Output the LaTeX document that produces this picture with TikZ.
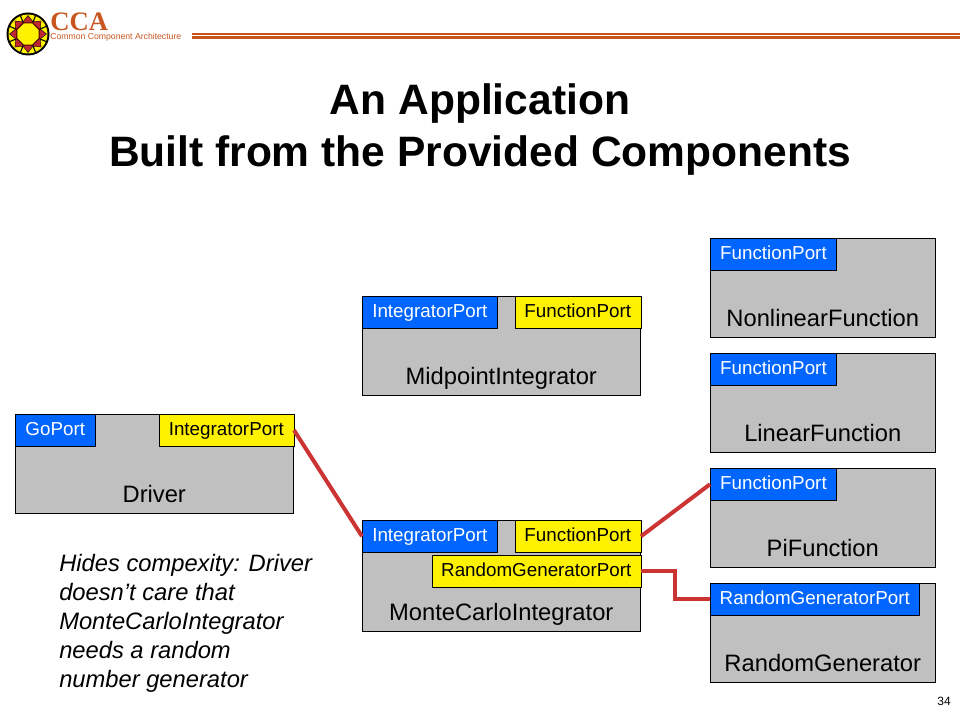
\documentclass[tikz,border=0pt]{standalone}
\usepackage{fontspec}
\setmainfont{Liberation Sans}
\newfontfamily\logofont{Liberation Serif}
\usetikzlibrary{calc}
\usepackage{xcolor}
\definecolor{compgray}{RGB}{192,192,192}
\definecolor{portblue}{RGB}{0,102,255}
\definecolor{wirered}{RGB}{204,51,51}
\definecolor{ccaorange}{RGB}{200,85,30}
\definecolor{logored}{RGB}{190,40,50}

\begin{document}
\begin{tikzpicture}[
      x=0.75pt, y=-0.75pt,
      comp/.style={draw, fill=compgray, anchor=north west, inner sep=0pt, align=center,
                   font=\fontsize{17.8}{20}\selectfont, text depth=7.75pt},
      bigcomp/.style={comp, minimum width=208.5pt, text height=66.5pt},
      funccomp/.style={comp, minimum width=168.75pt, text height=66.5pt},
      provides/.style={draw, fill=portblue, text=white, anchor=north west, inner sep=0pt,
                       minimum height=24pt, text height=10.5pt, text depth=2.5pt,
                       font=\fontsize{14.1}{16}\selectfont},
      uses/.style={draw, fill=yellow, anchor=north east, inner sep=0pt,
                   minimum height=24pt, text height=10.5pt, text depth=2.5pt,
                   font=\fontsize{14.1}{16}\selectfont},
      wire/.style={draw=wirered, line width=3pt},
    ]
    \useasboundingbox (0,0) rectangle (960,720);

    % logo and header
    \fill[black] (28,34) circle (21.5);
    \fill[yellow] (28,34) circle (19.5);
    \foreach \a in {0,45,...,315} {
      \draw[black, line width=0.8pt] (28,34) -- ++(\a+22.5:20);
      \fill[logored, draw=black, line width=0.3pt] (28,34) ++(\a:18.5) -- ($(28,34)+(\a+24:13)$) -- ($(28,34)+(\a:10)$) -- ($(28,34)+(\a-24:13)$) -- cycle;
    }
    \fill[yellow, draw=black!70!red, line width=0.8pt] (28,34) ++(22.5:12)
      \foreach \a in {67.5,112.5,...,337.5} { -- ($(28,34)+(\a:12)$) } -- cycle;
    \node[anchor=base west, inner sep=0pt, text=ccaorange, font=\logofont\bfseries\fontsize{20}{20}\selectfont] (cca) at (50,31) {CCA};
    \node[anchor=base west, inner sep=0pt, text=ccaorange, font=\fontsize{6.5}{7}\selectfont] (ccalong) at (50,39.5) {Common Component Architecture};
    \fill[ccaorange] (192,33.5) rectangle (960,35);
    \fill[ccaorange] (192,36) rectangle (960,39);

    % title
    \node[align=center, inner sep=0pt, anchor=base, font=\bfseries\fontsize{31.9}{39}\selectfont] (title) at (480,167)
      {An Application\\Built from the Provided Components};

    % components
    \node[bigcomp] (driver) at (15,414) {Driver};
    \node[bigcomp] (midpoint) at (362,296) {MidpointIntegrator};
    \node[bigcomp, text height=75.5pt] (monte) at (362,520) {MonteCarloIntegrator};
    \node[funccomp] (nonlinear) at (710,238) {NonlinearFunction};
    \node[funccomp] (linear) at (710,353) {LinearFunction};
    \node[funccomp] (pi) at (710,468) {PiFunction};
    \node[funccomp] (random) at (710,583) {RandomGenerator};

    % ports
    \node[provides, minimum width=60pt] (drivergo) at (driver.north west) {GoPort};
    \node[uses, minimum width=101.25pt] (driverint) at ($(driver.north east)+(0.5,0)$) {IntegratorPort};
    \node[provides, minimum width=101.25pt] (midint) at (midpoint.north west) {IntegratorPort};
    \node[uses, minimum width=94.5pt] (midfunc) at ($(midpoint.north east)+(0.5,0)$) {FunctionPort};
    \node[provides, minimum width=101.25pt] (monteint) at (monte.north west) {IntegratorPort};
    \node[uses, minimum width=94.5pt] (montefunc) at ($(monte.north east)+(0.5,0)$) {FunctionPort};
    \node[uses, minimum width=156.75pt] (monterand) at ($(monte.north east)+(0.5,35)$) {RandomGeneratorPort};
    \node[provides, minimum width=94.75pt] (nonlinearfunc) at (nonlinear.north west) {FunctionPort};
    \node[provides, minimum width=94.75pt] (linearfunc) at (linear.north west) {FunctionPort};
    \node[provides, minimum width=94.75pt] (pifunc) at (pi.north west) {FunctionPort};
    \node[provides, minimum width=156.75pt] (randomgen) at (random.north west) {RandomGeneratorPort};

    % connections
    \draw[wire] (driverint.east) -- (monteint.west);
    \draw[wire] (montefunc.east) -- (pifunc.west);
    \draw[wire] (monterand.east) -- ++(34,0) |- (randomgen.west);

    % note
    \node[anchor=north west, align=left, inner sep=0pt, font=\itshape\fontsize{17.8}{21.75}\selectfont] (note) at (59,554)
      {Hides compexity: Driver\\doesn’t care that\\MonteCarloIntegrator\\needs a random\\number generator};

    % page number
    \node[font=\fontsize{9}{10}\selectfont, inner sep=0pt] (pagenum) at (944,701) {34};
\end{tikzpicture}
\end{document}
